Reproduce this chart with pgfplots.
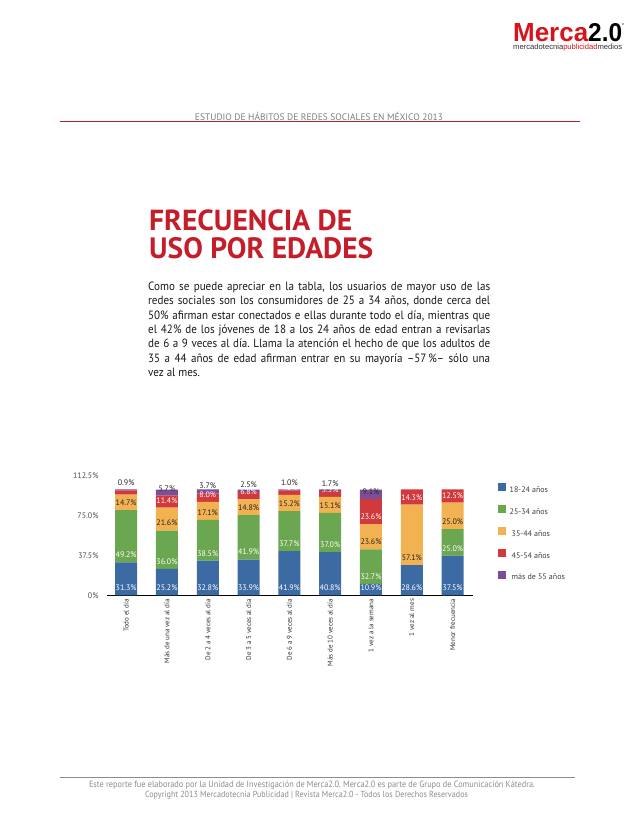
\documentclass[border=0pt]{standalone}
\usepackage{pgfplots}
\pgfplotsset{compat=1.18}
\usepackage{pgfplotstable}
\usepackage{fontspec}
\setmainfont{PT Sans}
\newfontfamily\condfont[FakeStretch=0.92]{PT Sans}
\newfontfamily\logofont{Liberation Sans}
\definecolor{cBlue}{HTML}{3C6AA2}
\definecolor{cGreen}{HTML}{6BA650}
\definecolor{cOrange}{HTML}{F2B252}
\definecolor{cRed}{HTML}{D2393C}
\definecolor{cPurple}{HTML}{7B4F98}
\definecolor{mercaRed}{HTML}{D7141A}
\definecolor{titleRed}{HTML}{C41E2A}
\definecolor{lineRed}{HTML}{9E2B2F}

\pgfplotstableread{
x a b c d e
0 31.3 49.2 14.7 3.9 0.9
1 25.2 36.0 21.6 11.4 5.7
2 32.8 38.5 17.1 8.0 3.7
3 33.9 41.9 14.8 6.8 2.5
4 41.9 37.7 15.2 4.2 1.0
5 40.8 37.0 15.1 5.5 1.7
6 10.9 32.7 23.6 23.6 9.1
7 28.6 0 57.1 14.3 0
8 37.5 25.0 25.0 12.5 0
}\datatable

\pgfplotsset{
  chartframe/.style={
    at={(107pt,230.5pt)}, anchor=south west,
    scale only axis, width=366pt, height=119.3pt,
    xmin=-0.47, xmax=8.5, ymin=0, ymax=112.5,
  },
  seglabels/.style={
    draw=none, mark=none, point meta=explicit,
    nodes near coords={\pgfmathfloatifflags{\pgfplotspointmeta}{0}{}{\pgfmathprintnumber{\pgfplotspointmeta}\%}},
    every node near coord/.append style={font=\fontsize{8}{9}\selectfont, anchor=center, inner sep=0pt, yshift=7.4pt, text=#1},
  },
}

\begin{document}
\frenchspacing
\begin{tikzpicture}
\path[use as bounding box, fill=white] (0pt,0pt) rectangle (638pt,826pt);

% logo
\node[anchor=south west, inner sep=0pt] at (513pt,784pt)
  {\resizebox{75pt}{18pt}{\logofont\bfseries\color{mercaRed}Merca}\resizebox{34pt}{18pt}{\logofont\bfseries 2.0}};
\node[anchor=west, inner sep=0pt] at (622pt,802pt) {\fontsize{3}{3}\selectfont\logofont ®};
\node[anchor=west, inner sep=0pt] at (513pt,778pt)
  {\resizebox{109pt}{!}{\logofont\color{black!80}mercadotecnia\textcolor{mercaRed}{publicidad}medios}};

% header
\draw[lineRed, line width=0.6pt] (60pt,704.3pt) -- (580pt,704.3pt);
\node[anchor=base, inner sep=0pt] at (319pt,705.5pt)
  {\resizebox{248pt}{!}{\fontsize{9}{10}\selectfont\color{black!50}ESTUDIO DE HÁBITOS DE REDES SOCIALES EN MÉXICO 2013}};

% title
\node[anchor=base west, inner sep=0pt] at (149pt,595pt)
  {\resizebox{203pt}{20.7pt}{\bfseries\color{titleRed}FRECUENCIA DE}};
\node[anchor=base west, inner sep=0pt] at (149pt,567pt)
  {\resizebox{224pt}{21pt}{\bfseries\color{titleRed}USO POR EDADES}};

% paragraph
\begin{scope}[every node/.style={anchor=base west, inner sep=0pt, font=\condfont\fontsize{12}{14}\selectfont, text=black!90}]
\node at (148pt,535.3pt) {\makebox[342pt][s]{Como se puede apreciar en la tabla, los usuarios de mayor uso de las}};
\node at (148pt,521.0pt) {\makebox[342pt][s]{redes sociales son los consumidores de 25 a 34 años, donde cerca del}};
\node at (148pt,506.6pt) {\makebox[342pt][s]{50\% afirman estar conectados e ellas durante todo el día, mientras que}};
\node at (148pt,492.3pt) {\makebox[342pt][s]{el 42\% de los jóvenes de 18 a los 24 años de edad entran a revisarlas}};
\node at (148pt,478.0pt) {\makebox[342pt][s]{de 6 a 9 veces al día. Llama la atención el hecho de que los adultos de}};
\node at (148pt,463.6pt) {\makebox[342pt][s]{35 a 44 años de edad afirman entrar en su mayoría –57\,\%– sólo una}};
\node at (148pt,449.3pt) {vez al mes.};
\end{scope}

% footer
\draw[black!45, line width=0.8pt] (60pt,49pt) -- (575pt,49pt);
\node[inner sep=0pt] at (312pt,41pt)
  {\resizebox{446pt}{!}{\condfont\fontsize{9}{10}\selectfont\color{black!45}Este reporte fue elaborado por la Unidad de Investigación de Merca2.0. Merca2.0 es parte de Grupo de Comunicación Kátedra.}};
\node[inner sep=0pt] at (306.5pt,31pt)
  {\resizebox{323pt}{!}{\condfont\fontsize{9}{10}\selectfont\color{black!45}Copyright 2013 Mercadotecnia Publicidad | Revista Merca2.0 - Todos los Derechos Reservados}};

\begin{axis}[
  chartframe,
  ybar stacked, bar width=22pt,
  axis lines*=left,
  y axis line style={draw=none},
  x axis line style={line width=0.9pt, black},
  xtick={0,1,2,3,4,5,6,7,8},
  xticklabels={Todo el día, Más de una vez al día, De 2 a 4 veces al día, De 3 a 5 veces al día, De 6 a 9 veces al día, Más de 10 veces al día, 1 vez a la semana, 1 vez al mes, Menor frecuencia},
  xtick style={draw=none}, ytick style={draw=none},
  xticklabel style={rotate=90, anchor=east, font=\fontsize{7}{8}\selectfont, text=black!80},
  ytick={0,37.5,75,112.5}, yticklabels={0\%,37.5\%,75.0\%,112.5\%},
  yticklabel style={font=\fontsize{8}{9}\selectfont, text=black!70, xshift=-5pt},
  legend style={at={(1.06,0.958)}, anchor=north west, draw=none, fill=none,
    font=\fontsize{8}{9}\selectfont, text=black!75, row sep=11pt, column sep=3.5pt,
    nodes={inner sep=0pt, text height=6pt, text depth=2pt}},
  legend cell align=left,
]
\addplot[fill=cBlue, draw=none,
  legend image code/.code={\fill[cBlue] (0pt,-1.1pt) rectangle (8pt,6.9pt);}]
  table[x=x, y=a] {\datatable};
\addlegendentry{18-24 años}
\addplot[fill=cGreen, draw=none,
  legend image code/.code={\fill[cGreen] (0pt,-1.1pt) rectangle (8pt,6.9pt);}]
  table[x=x, y=b] {\datatable};
\addlegendentry{25-34 años}
\addplot[fill=cOrange, draw=none,
  legend image code/.code={\fill[cOrange] (0pt,-1.1pt) rectangle (8pt,6.9pt);}]
  table[x=x, y=c] {\datatable};
\addlegendentry{\hspace{2pt}35-44 años}
\addplot[fill=cRed, draw=none,
  legend image code/.code={\fill[cRed] (0pt,-1.1pt) rectangle (8pt,6.9pt);}]
  table[x=x, y=d] {\datatable};
\addlegendentry{\hspace{2pt}45-54 años}
\addplot[fill=cPurple, draw=none,
  legend image code/.code={\fill[cPurple] (0pt,-1.1pt) rectangle (8pt,6.9pt);}]
  table[x=x, y=e] {\datatable};
\addlegendentry{\hspace{2pt}más de 55 años}
\end{axis}

% value labels, each at the base of its segment
\begin{axis}[
  chartframe, hide axis,
  /pgf/number format/fixed, /pgf/number format/fixed zerofill,
  /pgf/number format/precision=1, /pgf/number format/assume math mode=true,
]
\addplot[seglabels=white] table[x=x, y expr=0, meta=a] {\datatable};
\addplot[seglabels=white] table[x=x, y=a, meta=b] {\datatable};
\addplot[seglabels=black!85] table[x=x, y expr=\thisrow{a}+\thisrow{b}, meta=c] {\datatable};
\addplot[seglabels=white] table[x=x, y expr=\thisrow{a}+\thisrow{b}+\thisrow{c}, meta=d] {\datatable};
\addplot[seglabels=black!85] table[x=x, y expr=\thisrow{a}+\thisrow{b}+\thisrow{c}+\thisrow{d}, meta=e] {\datatable};
\end{axis}
\end{tikzpicture}
\end{document}
